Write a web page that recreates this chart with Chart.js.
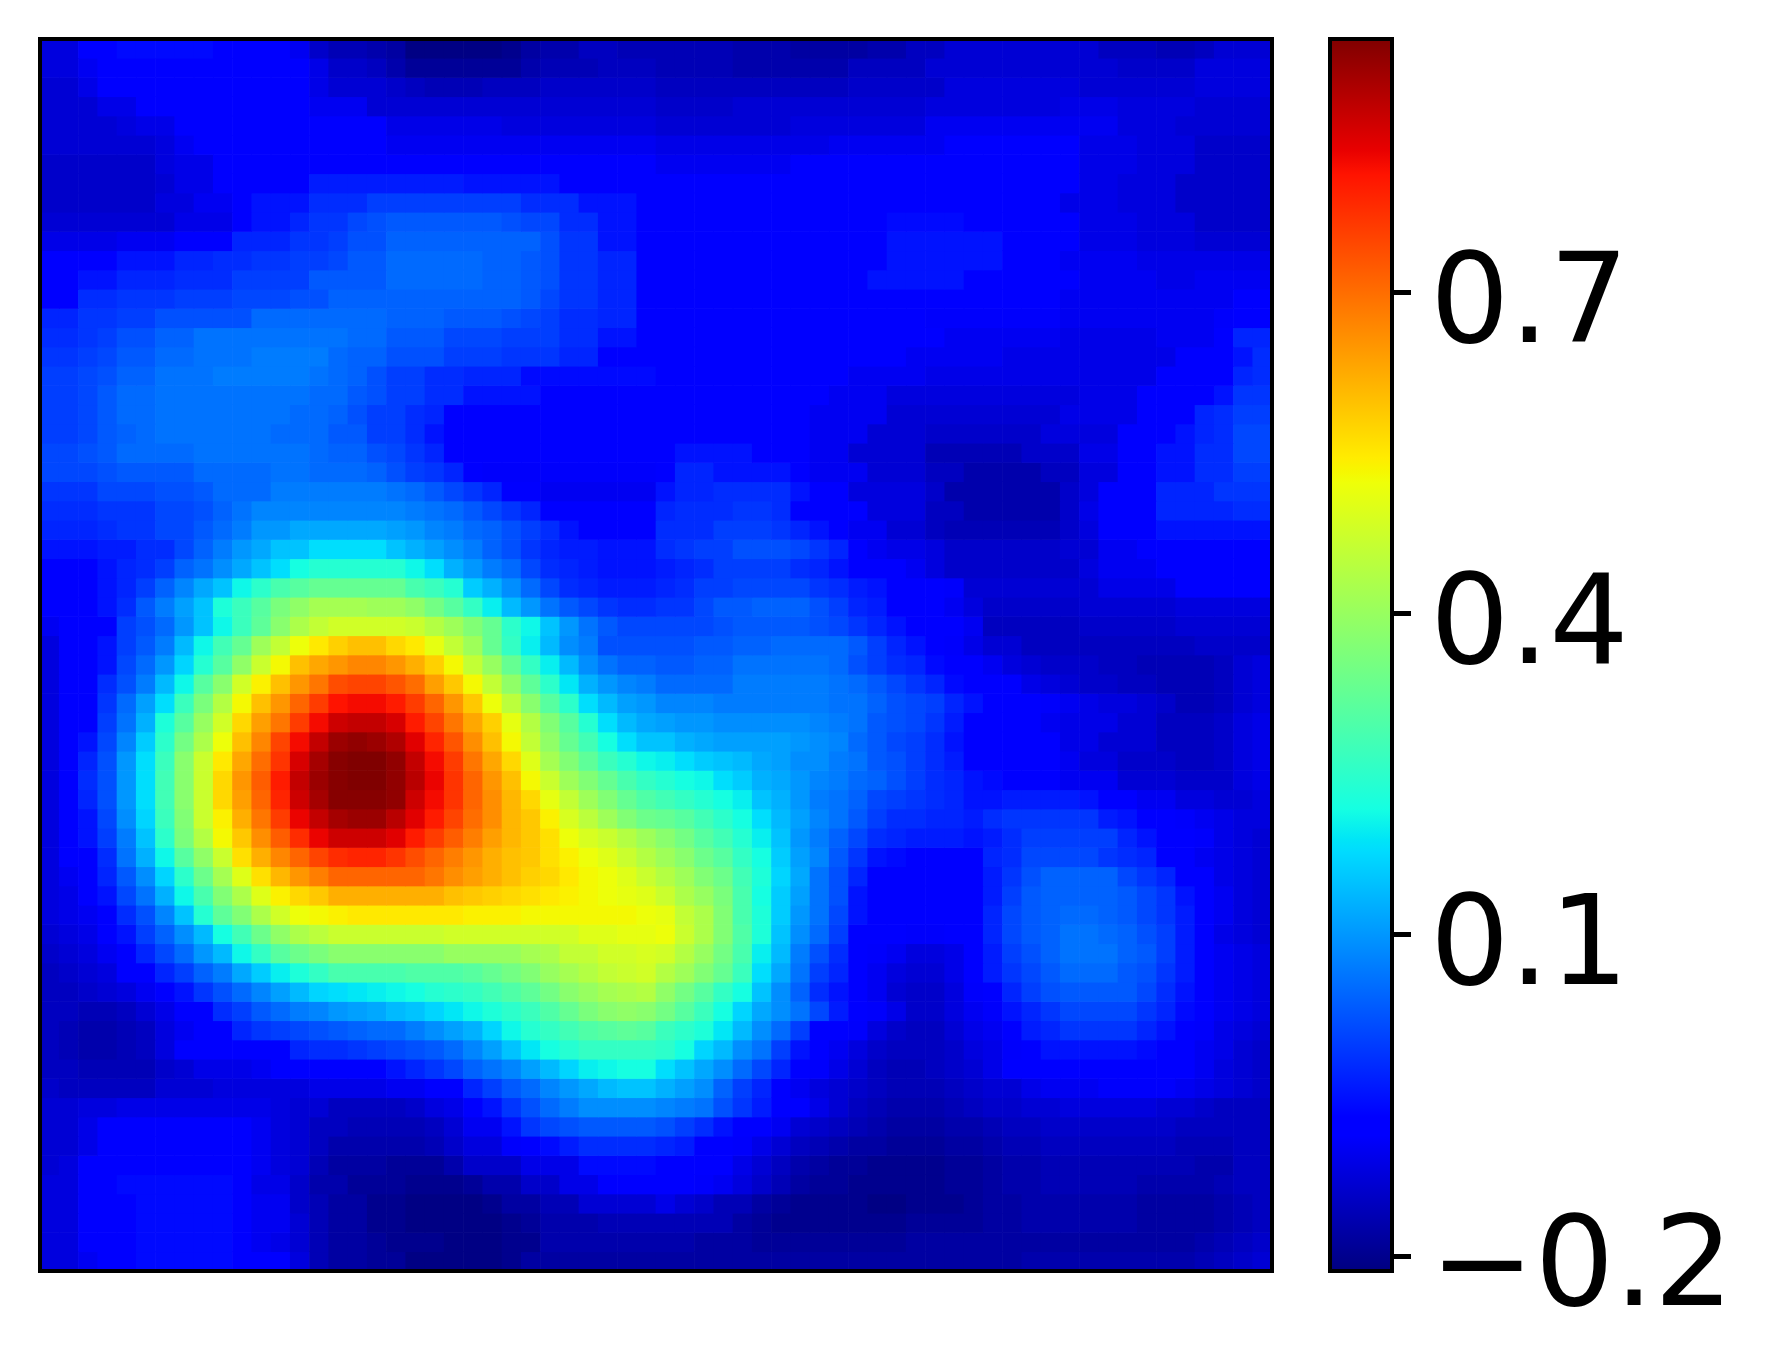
<!DOCTYPE html>
<html>
<head>
<meta charset="utf-8">
<title>Heatmap</title>
<script src="https://cdn.jsdelivr.net/npm/chart.js@4/dist/chart.umd.min.js"></script>
<style>
    html, body { margin: 0; padding: 0; background: #fff; }
    canvas { position: absolute; left: 0; top: 0; }
</style>
</head>
<body>
<canvas id="chartHeat" width="1767" height="1369"></canvas>
<canvas id="chartBarra" width="1767" height="1369"></canvas>
<script>
// valores, en centesimas
const heatRows = [
[-12,-12,-8,-8,-6,-6,-6,-6,-6,-8,-8,-8,-8,-10,-14,-16,-16,-17,-18,-21,-21,-21,-21,-21,-20,-18,-17,-17,-15,-15,-16,-16,-16,-16,-16,-16,-17,-17,-17,-18,-18,-18,-18,-17,-17,-15,-15,-13,-13,-13,-13,-13,-13,-13,-13,-15,-15,-15,-16,-16,-15,-13,-13,-13],
[-12,-12,-10,-8,-8,-8,-7,-7,-7,-7,-7,-8,-8,-8,-11,-14,-14,-15,-17,-19,-19,-19,-19,-19,-19,-17,-16,-16,-16,-15,-15,-15,-16,-16,-16,-16,-17,-17,-17,-17,-17,-17,-15,-15,-15,-15,-13,-13,-13,-13,-13,-13,-13,-13,-13,-13,-14,-14,-14,-14,-12,-12,-12,-12],
[-13,-13,-11,-8,-8,-8,-8,-8,-8,-8,-8,-8,-8,-8,-11,-13,-13,-13,-14,-15,-16,-16,-16,-15,-15,-15,-14,-14,-14,-14,-14,-14,-15,-15,-15,-15,-15,-15,-15,-15,-15,-15,-14,-14,-14,-14,-14,-12,-12,-12,-12,-12,-12,-12,-13,-13,-13,-13,-13,-13,-12,-12,-12,-12],
[-13,-13,-13,-11,-11,-8,-8,-8,-8,-8,-8,-8,-8,-8,-10,-10,-10,-13,-13,-13,-13,-13,-13,-13,-13,-13,-13,-13,-13,-13,-13,-13,-14,-14,-14,-14,-13,-13,-13,-13,-13,-13,-13,-13,-13,-13,-12,-12,-12,-12,-12,-12,-12,-11,-11,-11,-12,-12,-12,-12,-13,-13,-13,-13],
[-13,-13,-13,-13,-12,-11,-11,-8,-8,-8,-8,-8,-8,-8,-8,-8,-8,-8,-11,-11,-11,-11,-11,-11,-12,-12,-12,-12,-12,-12,-12,-12,-13,-13,-13,-13,-13,-13,-13,-12,-12,-12,-12,-12,-12,-12,-10,-10,-10,-10,-10,-10,-10,-10,-10,-10,-12,-12,-12,-13,-13,-13,-13,-13],
[-13,-13,-13,-13,-13,-13,-12,-10,-8,-8,-8,-8,-8,-8,-8,-8,-8,-8,-10,-10,-10,-10,-10,-10,-10,-10,-10,-10,-10,-10,-10,-10,-11,-11,-11,-11,-11,-11,-11,-11,-11,-10,-10,-10,-10,-10,-10,-8,-8,-8,-8,-8,-8,-8,-11,-11,-11,-12,-12,-12,-14,-14,-14,-14],
[-14,-14,-14,-14,-14,-14,-12,-11,-11,-8,-8,-8,-8,-8,-7,-7,-7,-7,-7,-7,-7,-7,-8,-8,-8,-8,-8,-8,-8,-8,-8,-8,-10,-10,-10,-10,-10,-10,-10,-8,-8,-8,-8,-8,-8,-8,-8,-8,-8,-8,-8,-8,-8,-8,-11,-11,-11,-12,-12,-12,-14,-14,-14,-14],
[-14,-14,-14,-14,-14,-14,-13,-11,-11,-8,-8,-8,-7,-7,-4,-4,-4,-4,-4,-4,-4,-4,-5,-5,-5,-5,-5,-7,-7,-8,-8,-8,-8,-8,-8,-8,-8,-8,-8,-8,-8,-8,-8,-8,-8,-8,-8,-8,-8,-8,-8,-8,-8,-8,-11,-11,-12,-12,-12,-14,-14,-14,-14,-14],
[-14,-14,-14,-14,-14,-14,-12,-12,-10,-10,-7,-5,-5,-5,-2,-2,-2,0,0,0,0,0,0,0,0,-2,-2,-2,-5,-5,-5,-8,-8,-8,-8,-8,-8,-8,-8,-8,-8,-8,-8,-8,-8,-7,-7,-7,-8,-8,-8,-8,-8,-11,-11,-11,-12,-12,-12,-14,-14,-14,-14,-14],
[-13,-13,-13,-13,-13,-13,-13,-11,-11,-11,-8,-5,-5,-3,-1,-1,1,2,3,3,3,3,3,3,2,1,1,-2,-2,-5,-5,-7,-8,-8,-8,-8,-8,-8,-8,-8,-8,-8,-8,-8,-6,-6,-6,-6,-7,-7,-7,-8,-8,-8,-11,-11,-11,-12,-12,-12,-14,-14,-14,-14],
[-11,-11,-11,-11,-10,-10,-10,-8,-8,-7,-3,-3,-3,-1,-1,0,2,2,4,4,4,4,4,4,4,4,2,-1,-1,-5,-5,-7,-8,-8,-8,-8,-8,-8,-8,-8,-8,-7,-7,-7,-5,-5,-5,-5,-5,-5,-7,-7,-8,-8,-11,-11,-11,-12,-12,-12,-13,-13,-13,-13],
[-8,-8,-8,-7,-5,-5,-5,-3,-3,-2,-2,-1,-1,0,0,1,3,3,5,5,5,5,5,4,4,3,2,-1,-1,-3,-3,-7,-8,-8,-8,-8,-8,-8,-8,-8,-8,-7,-7,-7,-5,-5,-5,-5,-5,-5,-8,-8,-8,-10,-10,-10,-10,-11,-11,-11,-11,-11,-11,-11],
[-8,-8,-5,-5,-3,-3,-3,-2,-2,-2,0,0,0,0,3,3,3,3,5,5,5,5,5,4,4,3,2,-1,-1,-3,-3,-7,-8,-8,-8,-8,-8,-8,-8,-8,-8,-8,-8,-5,-5,-5,-5,-5,-7,-7,-7,-8,-8,-8,-10,-10,-10,-10,-11,-11,-10,-10,-10,-10],
[-8,-7,-2,-2,-1,-1,-1,0,0,0,1,1,1,2,2,4,4,4,4,4,4,4,4,4,4,3,1,-1,-1,-3,-3,-7,-8,-8,-8,-8,-8,-8,-8,-8,-8,-8,-8,-7,-7,-7,-7,-7,-7,-8,-8,-8,-8,-10,-10,-10,-10,-10,-10,-10,-10,-10,-8,-8],
[-3,-3,-1,-1,0,0,2,2,2,2,2,5,5,5,5,5,5,5,4,4,4,3,3,3,2,1,0,-2,-2,-3,-3,-7,-8,-8,-8,-8,-8,-8,-8,-8,-8,-8,-8,-8,-8,-8,-9,-9,-9,-9,-9,-9,-9,-10,-10,-10,-10,-10,-10,-10,-10,-9,-8,-7],
[-2,-2,-1,0,2,2,4,4,6,6,6,6,6,6,6,6,5,5,3,3,3,1,1,1,0,0,0,-2,-2,-5,-5,-8,-8,-8,-8,-8,-8,-8,-8,-8,-8,-8,-8,-8,-8,-8,-8,-10,-10,-10,-10,-10,-10,-11,-11,-11,-11,-11,-10,-10,-10,-8,-3,-3],
[-1,-1,0,1,3,3,5,5,6,6,6,7,7,7,7,5,4,4,2,2,2,0,0,0,-1,-1,-1,-3,-3,-7,-7,-7,-8,-8,-8,-8,-8,-8,-8,-8,-8,-8,-8,-8,-8,-10,-10,-10,-10,-10,-11,-11,-11,-11,-11,-11,-11,-11,-11,-8,-8,-8,-5,-2],
[0,0,1,2,4,4,6,6,6,7,7,7,7,7,6,5,4,2,0,0,-2,-2,-3,-3,-3,-6,-6,-6,-6,-6,-6,-6,-8,-8,-8,-8,-8,-8,-8,-8,-8,-8,-10,-10,-10,-10,-11,-11,-11,-11,-11,-11,-11,-11,-11,-11,-11,-11,-8,-8,-8,-7,-3,-2],
[0,0,1,3,5,5,6,6,6,6,6,6,6,6,5,5,3,2,0,0,-2,-2,-5,-5,-5,-5,-8,-8,-8,-8,-8,-8,-8,-8,-8,-8,-8,-8,-8,-8,-8,-10,-10,-10,-12,-12,-12,-12,-12,-12,-12,-12,-12,-12,-11,-11,-11,-8,-8,-8,-7,-5,-1,-1],
[0,0,1,3,5,5,6,6,6,6,6,6,6,5,5,4,2,0,0,-2,-3,-8,-8,-8,-8,-8,-8,-8,-8,-8,-8,-8,-8,-8,-8,-8,-8,-8,-8,-8,-10,-10,-10,-10,-13,-13,-13,-13,-13,-13,-13,-13,-13,-11,-11,-11,-11,-8,-8,-7,-3,-2,0,0],
[0,0,1,3,4,5,6,6,6,6,6,6,5,5,5,3,3,0,0,-2,-5,-8,-8,-8,-8,-8,-8,-8,-8,-8,-8,-8,-8,-8,-8,-8,-8,-8,-8,-8,-10,-10,-10,-13,-13,-13,-14,-14,-14,-14,-14,-14,-12,-12,-12,-12,-8,-8,-8,-5,-3,-2,1,1],
[1,1,2,3,5,5,5,5,6,6,6,6,6,6,5,4,4,2,1,-1,-3,-7,-8,-8,-8,-8,-8,-8,-8,-8,-8,-8,-8,-5,-5,-5,-5,-8,-8,-8,-10,-10,-13,-13,-13,-13,-16,-16,-16,-16,-16,-14,-14,-14,-11,-11,-8,-8,-5,-5,-2,-2,1,1],
[1,1,1,2,3,3,3,3,5,5,5,5,6,6,5,5,5,4,2,0,-1,-3,-7,-9,-9,-9,-9,-9,-9,-9,-9,-9,-7,-3,-3,-5,-5,-5,-5,-8,-10,-10,-10,-13,-13,-13,-15,-15,-17,-17,-17,-17,-15,-15,-12,-12,-8,-8,-5,-5,-2,-2,0,0],
[-1,-1,-1,1,1,1,2,2,3,5,5,5,7,7,7,7,7,7,6,5,3,1,-1,-3,-7,-8,-10,-10,-10,-10,-10,-10,-5,-3,-3,-2,-2,-2,-2,-5,-8,-8,-12,-12,-12,-12,-14,-17,-17,-17,-17,-17,-17,-14,-12,-8,-8,-8,-3,-3,-3,-1,-1,-1],
[-2,-2,-2,-1,-1,-1,1,1,2,4,6,8,8,8,8,8,8,8,8,7,6,5,3,1,-1,-3,-7,-8,-8,-8,-8,-8,-3,-2,-2,-2,-1,-1,-2,-7,-7,-8,-8,-12,-12,-12,-15,-15,-17,-17,-17,-17,-17,-14,-11,-7,-7,-7,-3,-3,-3,-3,-2,-2],
[-3,-3,-3,-2,-1,-1,1,1,3,5,7,10,10,12,12,12,12,12,11,10,8,7,5,4,2,0,-2,-5,-7,-8,-8,-8,-2,-2,-2,0,0,0,-1,-3,-5,-8,-10,-10,-13,-13,-15,-16,-16,-16,-16,-16,-16,-14,-12,-8,-8,-8,-5,-5,-5,-5,-5,-5],
[-5,-5,-5,-4,-4,-2,-2,1,4,7,10,12,15,15,18,18,18,18,15,13,11,9,7,4,2,-1,-3,-4,-4,-5,-5,-5,-2,-1,0,0,2,2,2,1,-1,-3,-8,-10,-11,-11,-12,-14,-14,-14,-14,-14,-14,-13,-13,-10,-10,-8,-8,-8,-8,-8,-8,-8],
[-8,-8,-8,-5,-3,-2,0,4,6,9,12,15,18,22,24,24,24,24,24,21,18,13,10,7,5,1,-2,-3,-4,-5,-5,-5,-4,-3,-2,0,0,0,0,-2,-3,-5,-8,-8,-8,-10,-12,-14,-14,-14,-14,-14,-14,-14,-12,-10,-10,-10,-8,-8,-8,-8,-8,-8],
[-8,-8,-8,-5,-3,0,4,8,12,15,21,25,29,31,33,33,33,33,33,29,27,24,16,13,9,5,1,-2,-3,-4,-4,-4,-3,-2,0,0,1,1,1,1,-1,-2,-4,-5,-8,-8,-8,-9,-13,-13,-13,-13,-13,-13,-13,-11,-11,-11,-11,-8,-8,-8,-8,-8],
[-8,-8,-8,-5,-2,3,7,11,15,23,27,31,36,39,42,42,42,41,41,39,35,31,26,20,14,10,6,3,1,-1,-2,-2,-1,-1,1,3,3,4,4,4,2,0,-3,-4,-8,-8,-8,-10,-12,-14,-14,-14,-14,-14,-13,-13,-13,-13,-13,-12,-12,-12,-12,-12],
[-10,-8,-8,-8,0,2,5,10,15,21,27,32,38,43,46,48,48,48,48,47,44,41,37,33,25,21,15,10,6,3,1,1,1,1,1,2,3,3,3,3,2,1,-1,-3,-5,-8,-8,-8,-10,-15,-15,-15,-15,-15,-14,-14,-14,-14,-14,-13,-13,-13,-13,-13],
[-12,-8,-8,-5,0,3,7,14,21,28,33,41,46,52,55,58,60,60,57,55,51,46,41,33,26,20,14,9,7,2,2,2,2,2,3,3,4,4,5,5,5,5,3,0,-3,-5,-8,-9,-11,-13,-13,-15,-15,-15,-15,-15,-15,-15,-15,-15,-14,-14,-14,-14],
[-12,-8,-8,-5,1,5,10,17,24,31,39,47,53,60,63,65,67,67,65,62,58,53,46,40,33,26,20,14,9,6,4,4,3,3,4,4,6,6,6,6,6,5,2,0,-2,-3,-6,-8,-8,-10,-12,-13,-14,-14,-14,-15,-15,-16,-16,-16,-16,-15,-13,-12],
[-12,-8,-8,-2,2,7,14,21,31,38,48,54,60,65,69,74,75,75,73,70,64,59,53,46,39,32,25,19,13,10,8,7,5,5,5,5,7,7,7,7,7,6,5,3,1,-1,-3,-6,-8,-8,-8,-11,-12,-13,-14,-14,-15,-15,-16,-16,-16,-15,-13,-12],
[-12,-8,-7,-1,5,11,18,27,36,44,53,60,65,71,76,81,82,82,80,76,71,65,59,52,45,38,31,25,18,14,11,10,8,8,8,7,7,7,7,7,7,6,6,4,2,1,0,-3,-5,-7,-8,-8,-9,-10,-11,-12,-12,-13,-14,-16,-16,-15,-13,-12],
[-12,-8,-7,0,6,13,23,31,40,48,57,64,69,76,82,86,87,87,85,80,75,69,63,58,51,44,37,31,24,18,14,12,11,10,10,9,9,9,9,9,8,7,6,3,2,1,-1,-4,-7,-8,-8,-8,-10,-11,-11,-11,-13,-13,-15,-15,-15,-14,-12,-11],
[-12,-8,-5,1,8,16,25,35,43,52,60,67,75,82,87,91,92,91,89,84,79,73,66,60,53,46,39,33,28,22,18,15,15,13,12,11,11,11,11,10,9,8,5,3,1,0,-2,-5,-7,-8,-8,-8,-8,-11,-11,-13,-13,-13,-15,-15,-15,-14,-12,-11],
[-12,-8,-3,2,10,18,27,38,47,55,63,70,77,85,90,93,94,94,92,87,82,76,69,63,57,50,42,37,32,27,24,21,20,18,16,15,14,12,11,9,9,7,6,3,2,0,-2,-4,-8,-8,-8,-8,-8,-10,-12,-12,-14,-14,-14,-15,-15,-14,-12,-11],
[-12,-8,-2,2,10,18,28,38,47,57,65,72,80,87,91,93,94,94,92,88,83,77,71,65,60,53,47,41,37,33,29,26,24,22,21,18,16,13,12,10,8,7,5,4,2,0,-2,-3,-5,-6,-8,-8,-8,-10,-10,-10,-13,-13,-13,-14,-14,-14,-12,-11],
[-12,-8,-3,2,10,18,28,38,47,57,64,71,79,86,90,93,93,93,92,86,82,77,71,66,61,57,51,46,41,37,33,30,28,26,24,22,20,15,13,10,7,6,4,1,0,-1,-2,-3,-5,-5,-4,-4,-4,-4,-5,-8,-8,-10,-10,-12,-12,-13,-13,-12],
[-12,-8,-5,1,9,17,27,37,47,54,62,69,76,83,87,90,91,91,88,84,80,75,70,66,61,59,54,49,45,41,37,34,33,31,28,25,22,18,14,11,8,6,3,0,-2,-2,-3,-3,-4,-2,-1,-1,-1,-1,-1,-4,-5,-8,-8,-9,-10,-11,-12,-12],
[-12,-8,-5,0,7,15,25,36,44,53,59,66,72,78,83,86,86,86,84,80,76,72,68,64,61,59,56,52,49,47,44,41,38,35,31,28,24,20,15,10,7,4,1,-2,-3,-4,-4,-4,-5,-4,-2,0,0,0,0,0,-3,-5,-8,-8,-9,-11,-12,-13],
[-12,-8,-7,-2,6,13,21,31,39,47,56,62,67,71,75,78,79,79,77,74,71,68,65,62,60,59,56,54,52,50,47,44,41,38,34,31,26,22,16,11,8,3,-1,-5,-6,-8,-8,-8,-8,-3,-2,1,1,1,1,-1,-2,-3,-8,-8,-10,-11,-12,-13],
[-12,-10,-8,-3,3,9,17,25,34,42,50,56,61,65,68,71,71,71,71,71,69,66,64,62,60,58,57,55,53,52,50,47,44,41,37,34,28,23,17,12,6,2,-3,-8,-8,-8,-8,-8,-8,-4,-1,2,4,4,4,4,1,-1,-3,-8,-8,-11,-12,-13],
[-12,-11,-8,-5,1,6,13,21,29,37,43,50,54,57,59,62,62,62,62,62,62,60,59,58,57,56,55,54,53,52,51,50,47,43,40,36,29,22,16,11,6,2,-5,-8,-8,-8,-8,-8,-8,-4,0,3,4,4,4,4,3,1,-1,-5,-8,-10,-12,-13],
[-12,-11,-10,-8,-2,2,8,15,24,32,37,43,48,52,53,54,55,55,55,55,55,55,54,54,54,53,53,53,53,53,53,52,51,46,43,37,29,23,16,10,6,1,-5,-8,-8,-8,-8,-8,-8,-3,1,3,4,5,5,4,3,1,-1,-4,-8,-10,-12,-13],
[-13,-12,-11,-8,-5,0,4,9,14,22,28,34,39,43,45,47,47,47,47,47,47,48,48,48,48,48,48,48,50,50,51,51,52,47,43,37,30,23,15,9,5,0,-8,-8,-8,-9,-9,-8,-8,-3,1,3,4,6,6,5,4,2,0,-4,-8,-11,-12,-13],
[-14,-13,-12,-10,-8,-3,1,5,10,14,21,26,31,34,36,38,38,38,38,38,38,40,40,40,40,42,43,46,46,48,48,49,48,44,40,35,29,20,14,7,2,-2,-8,-9,-10,-12,-12,-11,-8,-4,0,2,4,6,6,6,4,3,0,-4,-8,-10,-11,-12],
[-15,-14,-13,-12,-8,-8,-3,0,4,7,12,16,20,23,26,29,29,29,29,30,30,30,31,33,35,37,40,42,44,46,47,48,44,41,37,33,27,18,12,6,0,-3,-8,-10,-12,-13,-13,-11,-8,-4,-1,1,3,5,5,5,3,2,-1,-4,-8,-10,-11,-12],
[-15,-15,-14,-13,-12,-10,-8,-5,-1,2,5,8,11,14,17,18,19,20,21,22,24,25,26,28,30,32,35,38,40,42,43,44,39,35,31,26,22,15,9,4,-2,-5,-8,-10,-13,-14,-14,-12,-9,-8,-3,0,2,3,3,3,3,1,-2,-5,-8,-10,-11,-12],
[-15,-15,-16,-16,-15,-13,-11,-8,-7,-2,0,3,5,7,8,10,11,12,14,15,17,19,21,23,25,27,30,33,36,38,39,38,35,31,27,22,17,12,9,6,1,-4,-8,-9,-11,-14,-14,-12,-10,-9,-5,-3,-1,1,1,1,1,-1,-3,-6,-8,-10,-11,-12],
[-15,-16,-17,-17,-16,-15,-12,-10,-8,-7,-3,-1,0,1,2,3,4,5,5,7,9,11,13,17,21,24,26,28,30,31,32,31,27,25,23,19,14,9,5,0,-7,-8,-9,-12,-14,-15,-15,-13,-11,-10,-8,-4,-3,-1,-1,-1,-1,-3,-5,-8,-9,-11,-12,-13],
[-15,-16,-17,-17,-16,-15,-12,-8,-8,-8,-8,-8,-7,-3,-2,-2,-1,0,1,2,3,5,8,11,15,19,22,24,26,26,26,26,25,22,17,14,9,6,0,-5,-8,-10,-12,-14,-15,-15,-15,-14,-12,-11,-9,-8,-5,-5,-5,-5,-5,-6,-8,-8,-10,-11,-13,-14],
[-15,-15,-16,-16,-16,-16,-14,-13,-11,-11,-11,-10,-8,-8,-8,-8,-8,-7,-5,-3,-1,1,4,6,8,11,14,17,20,21,22,22,18,15,12,9,5,1,-3,-8,-9,-11,-13,-15,-16,-16,-15,-14,-13,-11,-8,-8,-8,-8,-8,-8,-8,-8,-8,-8,-10,-12,-13,-14],
[-14,-15,-15,-15,-15,-15,-13,-13,-13,-12,-12,-12,-12,-12,-11,-11,-11,-11,-10,-10,-8,-7,-3,0,3,5,8,10,12,14,15,15,13,11,9,4,0,-3,-8,-10,-12,-13,-14,-15,-16,-16,-16,-15,-14,-13,-13,-11,-10,-10,-10,-9,-9,-9,-9,-10,-11,-12,-13,-14],
[-13,-13,-12,-12,-11,-11,-11,-11,-11,-11,-11,-11,-12,-13,-13,-15,-15,-15,-15,-14,-12,-11,-8,-5,-1,2,5,7,9,9,9,9,8,7,6,2,-1,-4,-8,-8,-11,-13,-15,-16,-17,-17,-17,-16,-15,-14,-14,-13,-13,-12,-12,-12,-12,-12,-13,-13,-14,-15,-15,-15],
[-13,-13,-11,-8,-8,-8,-8,-8,-8,-8,-8,-10,-12,-13,-15,-15,-16,-16,-16,-16,-15,-13,-10,-10,-5,-1,1,2,3,3,3,3,2,0,-2,-5,-8,-8,-10,-13,-14,-15,-16,-17,-18,-18,-18,-17,-17,-16,-15,-15,-14,-14,-14,-14,-14,-14,-14,-15,-15,-15,-15,-15],
[-13,-13,-11,-8,-8,-8,-8,-8,-8,-8,-8,-10,-12,-13,-15,-17,-17,-17,-17,-17,-16,-14,-12,-12,-9,-8,-6,-4,-2,-2,-2,-2,-3,-4,-8,-8,-9,-11,-13,-15,-16,-17,-18,-18,-19,-19,-19,-18,-18,-17,-16,-16,-15,-15,-15,-15,-15,-15,-15,-16,-16,-16,-15,-15],
[-13,-12,-8,-8,-8,-8,-8,-8,-8,-8,-8,-10,-12,-13,-16,-18,-18,-18,-19,-19,-19,-17,-14,-14,-14,-11,-11,-11,-6,-6,-6,-6,-8,-8,-8,-8,-11,-13,-15,-17,-18,-19,-19,-20,-20,-20,-20,-19,-19,-18,-17,-17,-16,-16,-16,-16,-16,-16,-16,-16,-17,-17,-15,-15],
[-12,-12,-8,-8,-6,-6,-6,-6,-6,-6,-8,-11,-11,-14,-17,-17,-19,-19,-19,-20,-20,-20,-19,-17,-17,-14,-14,-11,-11,-8,-8,-8,-8,-8,-9,-10,-12,-14,-16,-18,-19,-19,-20,-20,-20,-20,-20,-19,-19,-18,-17,-17,-16,-16,-16,-16,-16,-17,-17,-17,-17,-16,-15,-15],
[-12,-12,-8,-8,-7,-6,-6,-6,-6,-6,-8,-10,-10,-14,-16,-18,-18,-20,-20,-21,-21,-21,-21,-20,-18,-18,-16,-16,-13,-13,-13,-13,-11,-13,-14,-16,-16,-18,-19,-20,-20,-20,-20,-21,-21,-20,-20,-20,-19,-18,-18,-17,-17,-17,-17,-17,-17,-18,-18,-18,-18,-17,-16,-15],
[-12,-12,-8,-8,-7,-6,-6,-6,-6,-6,-8,-10,-10,-13,-16,-18,-18,-20,-20,-21,-21,-21,-21,-21,-20,-19,-17,-17,-17,-16,-16,-16,-16,-16,-16,-16,-18,-19,-20,-20,-20,-20,-20,-20,-20,-19,-19,-19,-19,-18,-18,-17,-17,-17,-17,-17,-17,-18,-18,-18,-18,-17,-16,-15],
[-12,-12,-8,-8,-7,-6,-6,-6,-6,-6,-8,-10,-11,-13,-16,-18,-18,-19,-20,-20,-20,-21,-21,-21,-20,-20,-17,-17,-17,-17,-17,-17,-17,-17,-18,-18,-18,-19,-19,-19,-19,-19,-19,-19,-19,-18,-18,-18,-18,-18,-18,-18,-18,-18,-18,-18,-18,-18,-18,-18,-17,-16,-15,-14],
[-12,-12,-10,-8,-7,-6,-6,-6,-6,-6,-8,-8,-8,-12,-16,-18,-18,-19,-19,-21,-21,-21,-21,-21,-20,-18,-18,-18,-18,-18,-18,-18,-18,-18,-18,-18,-18,-18,-18,-18,-18,-18,-18,-18,-18,-18,-18,-18,-18,-18,-18,-17,-17,-17,-17,-17,-17,-17,-17,-17,-16,-15,-14,-13]
];
const colorMin = -0.214;
const colorMax = 0.937;
const barraTicks = [-0.2, 0.1, 0.4, 0.7];
const columnas = heatRows[0].map((_, i) => i);

// segmentos de la escala jet
const jetR = [[0, 0], [0.35, 0], [0.66, 1], [0.89, 1], [1, 0.5]];
const jetG = [[0, 0], [0.125, 0], [0.375, 1], [0.64, 1], [0.91, 0], [1, 0]];
const jetB = [[0, 0.5], [0.11, 1], [0.34, 1], [0.65, 0], [1, 0]];

const tramo = (segs, t) => {
    for (let i = 1; i < segs.length; i++) {
        if (t <= segs[i][0]) {
            const [x0, y0] = segs[i - 1];
            const [x1, y1] = segs[i];
            return y0 + (y1 - y0) * (t - x0) / (x1 - x0);
        }
    }
    return segs[segs.length - 1][1];
};
const jet = t => {
    const c = Math.min(1, Math.max(0, t));
    const r = Math.round(tramo(jetR, c) * 255);
    const g = Math.round(tramo(jetG, c) * 255);
    const b = Math.round(tramo(jetB, c) * 255);
    return `rgb(${r}, ${g}, ${b})`;
};
const colorDe = v => jet((v / 100 - colorMin) / (colorMax - colorMin));

const marco = {
    id: 'marco',
    afterDraw(chart) {
        const { ctx, chartArea: a } = chart;
        ctx.save();
        ctx.strokeStyle = '#000';
        ctx.lineWidth = 4;
        ctx.strokeRect(a.left, a.top, a.right - a.left, a.bottom - a.top);
        ctx.restore();
    }
};

new Chart(document.getElementById('chartHeat'), {
    type: 'bar',
    plugins: [marco],
    data: {
        labels: columnas,
        datasets: heatRows.map((fila, r) => ({
            data: fila.map(() => [r, r + 1]),
            backgroundColor: fila.map(colorDe),
            grouped: false,
            barPercentage: 1,
            categoryPercentage: 1,
            borderWidth: 0
        }))
    },
    options: {
        responsive: false,
        animation: false,
        events: [],
        layout: { padding: { left: 40, top: 39, right: 495, bottom: 98 } },
        plugins: { legend: { display: false }, tooltip: { enabled: false } },
        scales: {
            x: { display: false },
            y: { display: false, min: 0, max: heatRows.length, reverse: true }
        }
    }
});

const gradienteBarra = ctx => {
    const { ctx: c, chartArea: a } = ctx.chart;
    if (!a) return '#000080';
    const g = c.createLinearGradient(0, a.bottom, 0, a.top);
    const cortes = [...jetR, ...jetG, ...jetB].map(s => s[0]);
    cortes.sort((p, q) => p - q).forEach(t => g.addColorStop(t, jet(t)));
    return g;
};

new Chart(document.getElementById('chartBarra'), {
    type: 'bar',
    plugins: [marco],
    data: {
        labels: ['barra'],
        datasets: [{
            data: [[colorMin, colorMax]],
            backgroundColor: gradienteBarra,
            barPercentage: 1,
            categoryPercentage: 1,
            borderWidth: 0
        }]
    },
    options: {
        responsive: false,
        animation: false,
        events: [],
        layout: { padding: { left: 1330, top: 39, right: 0, bottom: 98 } },
        plugins: { legend: { display: false }, tooltip: { enabled: false } },
        scales: {
            x: { display: false },
            y: {
                position: 'right',
                min: colorMin,
                max: colorMax,
                afterBuildTicks: scale => { scale.ticks = barraTicks.map(value => ({ value })); },
                afterFit: scale => {
                    scale.width = 375;
                    scale.paddingTop = 0;
                    scale.paddingBottom = 0;
                },
                border: { display: false },
                grid: {
                    drawOnChartArea: false,
                    drawTicks: true,
                    tickLength: 19,
                    tickWidth: 5,
                    tickColor: '#000'
                },
                ticks: {
                    autoSkip: false,
                    padding: 19,
                    color: '#000',
                    // linea vacia arriba: baja el texto respecto a la marca
                    font: { family: '"DejaVu Sans"', size: 125, lineHeight: '34px' },
                    callback: value => ['', value.toFixed(1).replace('-', '\u2212')]
                }
            }
        }
    }
});
</script>
</body>
</html>
